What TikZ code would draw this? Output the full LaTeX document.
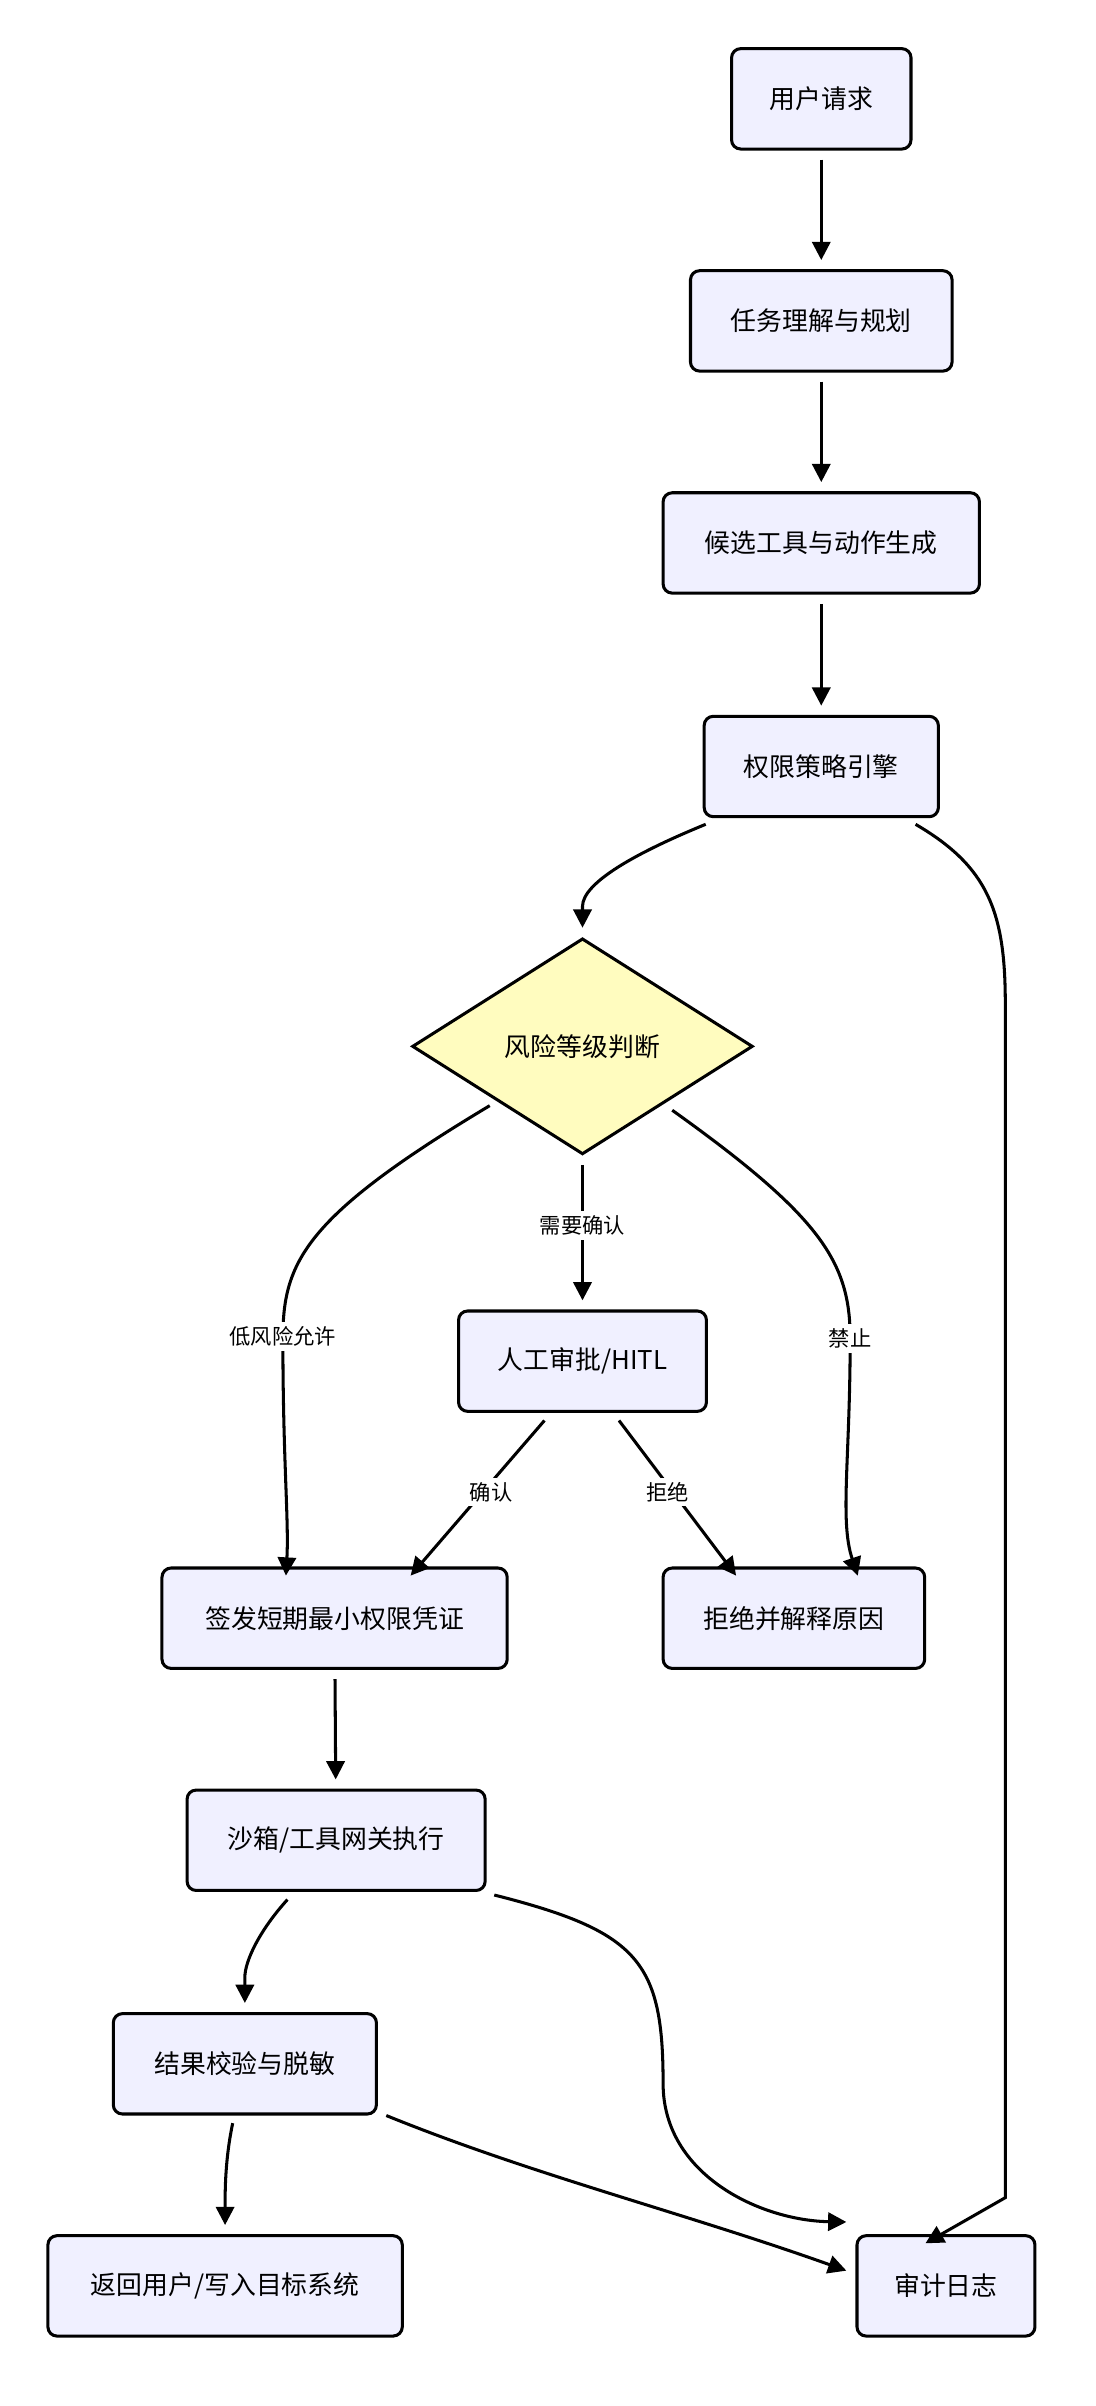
\documentclass[tikz,border=0pt]{standalone}
\usepackage{fontspec}
\setmainfont{Noto Sans CJK SC}
\usetikzlibrary{arrows.meta,shapes.geometric}
\begin{document}
\begin{tikzpicture}[x=0.5pt,y=-0.5pt,
  box/.style={draw=black,line width=1pt,rounded corners=3pt,fill=blue!6!white,minimum height=33pt,font=\fontsize{8.5}{10}\selectfont,inner sep=0pt},
  dia/.style={diamond,aspect=1.58,draw=black,line width=1pt,fill=yellow!25!white,minimum width=112pt,minimum height=71pt,font=\fontsize{8.5}{10}\selectfont,inner sep=0pt},
  arr/.style={line width=1pt,-{Triangle[length=6pt,width=6pt]}},
  lab/.style={fill=white,font=\fontsize{7}{8}\selectfont,inner sep=1.5pt}]
\useasboundingbox (0,0) rectangle (720,1582);
\node[box,minimum width=59pt] (a) at (540,65) {用户请求};
\node[box,minimum width=86pt] (b) at (540,211) {任务理解与规划};
\node[box,minimum width=104pt] (c) at (540,357) {候选工具与动作生成};
\node[box,minimum width=77pt] (d) at (540,504) {权限策略引擎};
\node[dia] (e) at (383,688) {风险等级判断};
\node[box,minimum width=81.5pt] (h) at (383,895) {人工审批/HITL};
\node[box,minimum width=113.5pt] (s) at (220,1064) {签发短期最小权限凭证};
\node[box,minimum width=86pt] (r) at (522,1064) {拒绝并解释原因};
\node[box,minimum width=98pt] (x) at (221,1210) {沙箱/工具网关执行};
\node[box,minimum width=86.5pt] (v) at (161,1357) {结果校验与脱敏};
\node[box,minimum width=116.5pt] (o) at (148,1503) {返回用户/写入目标系统};
\node[box,minimum width=58.5pt] (l) at (622,1503) {审计日志};
\draw[arr,shorten <=3pt,shorten >=3pt] (a) -- (b);
\draw[arr,shorten <=3pt,shorten >=3pt] (b) -- (c);
\draw[arr,shorten <=3pt,shorten >=3pt] (c) -- (d);
\draw[arr] ([xshift=-77pt,yshift=-2pt]d.south east) .. controls (420,560) and (383,580) .. (383,596) -- ([yshift=3pt]e.north);
\draw[arr] ([xshift=-8pt,yshift=-2pt]d.south east) .. controls (650,570) and (661,600) .. (661,660) -- (661,1445) -- ([xshift=23pt,yshift=-3pt]l.north west);
\draw[arr] (322,727) .. controls (200,800) and (186,830) .. (186,880) .. controls (186,960) and (190,1000) .. ([xshift=-16pt,yshift=-3pt]s.north);
\node[lab] at (186,879) {低风险允许};
\draw[arr] ([yshift=-3pt]e.south) -- ([yshift=3pt]h.north);
\node[lab] at (383,806) {需要确认};
\draw[arr] (442,730) .. controls (540,800) and (559,830) .. (559,880) .. controls (559,960) and (552,1000) .. ([xshift=21pt,yshift=-3pt]r.north);
\node[lab] at (559,880) {禁止};
\draw[arr] (358,934) -- ([xshift=25pt,yshift=-3pt]s.north);
\node[lab] at (323,981) {确认};
\draw[arr] (407,934) -- ([xshift=-19pt,yshift=-3pt]r.north);
\node[lab] at (439,981) {拒绝};
\draw[arr,shorten <=3pt,shorten >=3pt] (s) -- (x);
\draw[arr] (189,1249) .. controls (170,1270) and (161,1290) .. (161,1300) -- ([yshift=3pt]v.north);
\draw[arr] (325,1246) .. controls (420,1270) and (436,1290) .. (436,1370) .. controls (436,1430) and (500,1460) .. ([xshift=-3pt,yshift=4pt]l.north west);
\draw[arr] (153,1396) .. controls (148,1420) and (148,1440) .. ([yshift=3pt]o.north);
\draw[arr] (254,1391) .. controls (350,1430) and (450,1455) .. ([xshift=-3pt,yshift=-12pt]l.north west);
\end{tikzpicture}
\end{document}
